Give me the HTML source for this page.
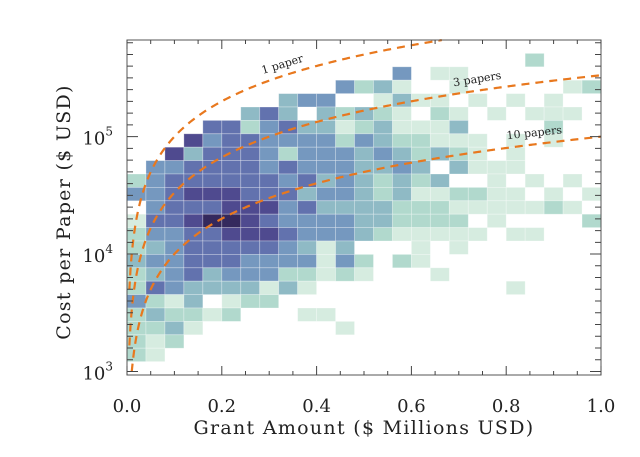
<!DOCTYPE html>
<html><head><meta charset="utf-8"><style>
body{margin:0;background:#fff;width:640px;height:457px;overflow:hidden}
svg{display:block}
text{font-family:"DejaVu Serif","Liberation Serif",serif;fill:#222}
</style></head><body>
<svg id="chart" width="640" height="457">
<g id="cells"></g>
<g id="curves"></g>
<g id="axes"></g>
</svg>
<script>
// Data: 25x25 grid of density levels (0 = empty, 7 = highest), row 0 = top (highest cost)
const xBinEdges = [0, 1];           // x domain (grant, $M)
const logYDomain = [2.97, 5.823];   // log10 cost per paper, bottom..top
const densityRows = [
"0000000000000000000000000",
"0000000000000000000002000",
"0000000000000040110000000",
"0000000000042310010000012",
"0000000034400131101010100",
"0000003530323210210101110",
"0000552453312311130000200",
"0006455444424322111010100",
"0063555424443432321010000",
"0445555454443343031110000",
"2455555545343232300101010",
"4456665553443231122110101",
"0455566645333322211111210",
"1556776544443322220100002",
"2445566654443211111011000",
"2345555543130001010000000",
"3445554444142021000000000",
"2345344422121000100000000",
"2543333131000000000010000",
"4213012200000000000000000",
"2322120001100000000000000",
"2231000000010000000000000",
"2120000000000000000000000",
"2100000000000000000000000",
"0000000000000000000000000"
];
const levelColors = ["none","#d6ece0","#b1d9cd","#8fbac5","#7598bf","#6272ae","#4f4a8f","#34295d"];
const paperCounts = [1, 3, 10];
const curveLabels = ["1 paper", "3 papers", "10 papers"];
const xTickValues = [0, 0.2, 0.4, 0.6, 0.8, 1.0];
const xTickLabels = ["0.0", "0.2", "0.4", "0.6", "0.8", "1.0"];
const yTickExps = [3, 4, 5];

const L=127, R=601, T=40, B=375;
const NS="http://www.w3.org/2000/svg";
const xs = v => L + (v - xBinEdges[0]) / (xBinEdges[1] - xBinEdges[0]) * (R - L);
const ys = lv => B - (lv - logYDomain[0]) / (logYDomain[1] - logYDomain[0]) * (B - T);
function mk(tag, attrs, parent){const e=document.createElementNS(NS,tag);for(const k in attrs)e.setAttribute(k,attrs[k]);parent.appendChild(e);return e;}

const gc=document.getElementById('cells');
const nr=densityRows.length, nc=densityRows[0].length;
const cw=(R-L)/nc, ch=(B-T)/nr;
densityRows.forEach((row,r)=>{
  for(let c=0;c<nc;c++){
    const lv=+row[c]; if(!lv) continue;
    const rc=mk('rect',{x:L+c*cw,y:T+r*ch,width:cw,height:ch,fill:levelColors[lv],stroke:'rgba(255,255,255,0.35)','stroke-width':0.8},gc);
    
    
  }
});

const gv=document.getElementById('curves');
const labelPos=[[0.33,-17],[0.74,-9],[0.86,-6]];
paperCounts.forEach((n,i)=>{
  let d='';
  for(let k=0;k<=400;k++){
    const x=0.005+k*(0.995/400);
    const lv=Math.log10(x*1e6/n);
    let py=ys(lv);
    if(py<T||py>B) continue;
    d+=(d?'L':'M')+xs(x).toFixed(2)+','+py.toFixed(2);
  }
  const p=mk('path',{d:d,fill:'none',stroke:'#e8781e','stroke-width':2.2,'stroke-dasharray':'8,6'},gv);
  
  
  const lx=labelPos[i][0], ly=ys(Math.log10(lx*1e6/n))-8;
  const t=mk('text',{x:xs(lx),y:ly,'font-size':11,'text-anchor':'middle',transform:`rotate(${labelPos[i][1]} ${xs(lx)} ${ly})`},gv);
  t.textContent=curveLabels[i];
  
  
});

const ga=document.getElementById('axes');
const fr=mk('rect',{x:L,y:T,width:R-L,height:B-T,fill:'none',stroke:'#555','stroke-width':1},ga);


let td='';
for(let k=0;k<=20;k++){const v=k*0.05,x=xs(v),len=(k%4===0)?9:4;td+=`M${x},${B}v${-len}M${x},${T}v${len}`;}
const yStep=(ys(4)-ys(5))/10;
for(let k=-40;k<=40;k++){const y=ys(5)+k*yStep; if(y<T+1||y>B-1) continue; const len=(k%10===0)?11:6; td+=`M${L},${y}h${len}M${R},${y}h${-len}`;}
const tk=mk('path',{d:td,stroke:'#444','stroke-width':1,fill:'none'},ga);


xTickValues.forEach((v,i)=>{
  const t=mk('text',{x:xs(v),y:412,'font-size':18,'text-anchor':'middle'},ga);
  t.textContent=xTickLabels[i];
  
  
});
yTickExps.forEach(e=>{
  const t=mk('text',{x:113,y:ys(e)+8,'font-size':18,'text-anchor':'end'},ga);
  t.textContent='10';
  const s=mk('tspan',{dy:-9,'font-size':12},t);
  s.textContent=String(e);
  
  
});
const xt=mk('text',{x:364,y:434,'font-size':19,'text-anchor':'middle','letter-spacing':'1.3'},ga);
xt.textContent='Grant Amount ($ Millions USD)';


const yt=mk('text',{x:0,y:0,'font-size':19,'text-anchor':'middle','letter-spacing':'1.3',transform:'translate(70,212) rotate(-90)'},ga);
yt.textContent='Cost per Paper ($ USD)';


</script>
</body></html>
